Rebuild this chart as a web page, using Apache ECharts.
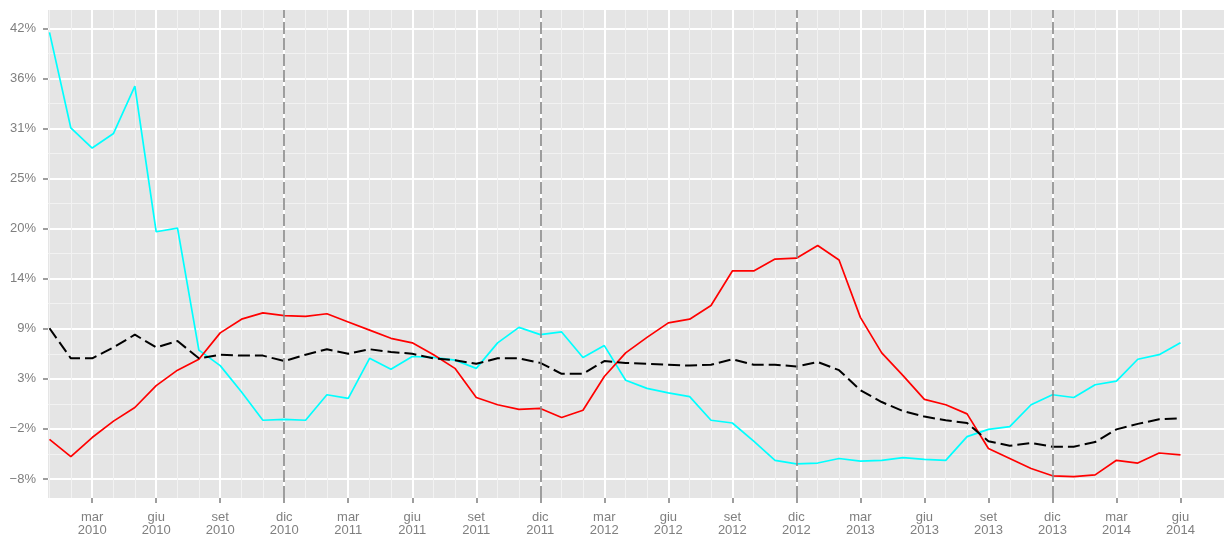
<!DOCTYPE html>
<html>
<head>
<meta charset="utf-8">
<script src="https://cdn.jsdelivr.net/npm/echarts@6/dist/echarts.min.js"></script>
<style>
  html, body { margin: 0; padding: 0; background: #fff; }
  #chart { width: 1224px; height: 535px; }
</style>
</head>
<body>
<div id="chart"></div>
<script>
// mesi: gen 2010 -> giu 2014 (la posizione sull'asse x e' l'indice del mese)
const monthLabels = [
  'gen 2010', 'feb 2010', 'mar 2010', 'apr 2010', 'mag 2010', 'giu 2010', 'lug 2010', 'ago 2010', 'set 2010', 'ott 2010', 'nov 2010', 'dic 2010',
  'gen 2011', 'feb 2011', 'mar 2011', 'apr 2011', 'mag 2011', 'giu 2011', 'lug 2011', 'ago 2011', 'set 2011', 'ott 2011', 'nov 2011', 'dic 2011',
  'gen 2012', 'feb 2012', 'mar 2012', 'apr 2012', 'mag 2012', 'giu 2012', 'lug 2012', 'ago 2012', 'set 2012', 'ott 2012', 'nov 2012', 'dic 2012',
  'gen 2013', 'feb 2013', 'mar 2013', 'apr 2013', 'mag 2013', 'giu 2013', 'lug 2013', 'ago 2013', 'set 2013', 'ott 2013', 'nov 2013', 'dic 2013',
  'gen 2014', 'feb 2014', 'mar 2014', 'apr 2014', 'mag 2014', 'giu 2014'
];

// serie (valori in %)
const cyanValues = [
  41.3, 30.8, 28.6, 30.2, 35.4, 19.4, 19.8, 6.4, 4.7, 1.8, -1.3, -1.2,
  -1.3, 1.5, 1.1, 5.5, 4.3, 5.7, 5.6, 5.3, 4.4, 7.2, 8.9, 8.1,
  8.4, 5.6, 6.9, 3.1, 2.2, 1.7, 1.3, -1.3, -1.6, -3.6, -5.7, -6.1,
  -6.0, -5.5, -5.8, -5.7, -5.4, -5.6, -5.7, -3.1, -2.3, -2.0, 0.4, 1.5,
  1.2, 2.6, 3.0, 5.4, 5.9, 7.2
];
const redValues = [
  -3.4, -5.3, -3.2, -1.4, 0.1, 2.5, 4.2, 5.4, 8.3, 9.8, 10.5, 10.2,
  10.1, 10.4, 9.5, 8.6, 7.7, 7.2, 5.9, 4.4, 1.2, 0.4, -0.1, 0.0,
  -1.0, -0.2, 3.5, 6.1, 7.8, 9.4, 9.8, 11.3, 15.1, 15.1, 16.4, 16.5,
  17.9, 16.3, 10.0, 6.1, 3.6, 1.0, 0.4, -0.6, -4.4, -5.5, -6.6, -7.4,
  -7.5, -7.3, -5.7, -6.0, -4.9, -5.1
];
const blackValues = [
  8.8, 5.5, 5.5, 6.7, 8.1, 6.7, 7.4, 5.5, 5.9, 5.8, 5.8, 5.2,
  5.9, 6.5, 6.0, 6.5, 6.2, 6.0, 5.5, 5.3, 4.9, 5.5, 5.5, 5.0,
  3.8, 3.8, 5.2, 5.0, 4.9, 4.8, 4.7, 4.8, 5.4, 4.8, 4.8, 4.6,
  5.1, 4.2, 2.0, 0.7, -0.3, -0.9, -1.3, -1.6, -3.6, -4.1, -3.8, -4.2,
  -4.2, -3.7, -2.3, -1.7, -1.2, -1.1
];

// tacche asse x
const xTickValues = [2, 5, 8, 11, 14, 17, 20, 23, 26, 29, 32, 35, 38, 41, 44, 47, 50, 53];
const xTickLabels = [
  'mar\n2010', 'giu\n2010', 'set\n2010', 'dic\n2010',
  'mar\n2011', 'giu\n2011', 'set\n2011', 'dic\n2011',
  'mar\n2012', 'giu\n2012', 'set\n2012', 'dic\n2012',
  'mar\n2013', 'giu\n2013', 'set\n2013', 'dic\n2013',
  'mar\n2014', 'giu\n2014'
];
// tacche asse y
const yTickValues = [-7.75, -2.25, 3.25, 8.75, 14.25, 19.75, 25.25, 30.75, 36.25, 41.75];
const yTickLabels = ['\u22128%', '\u22122%', '3%', '9%', '14%', '20%', '25%', '31%', '36%', '42%'];
const yMinorValues = [-5, 0.5, 6, 11.5, 17, 22.5, 28, 33.5, 39];
// linee verticali tratteggiate (dicembre)
const markerMonths = [11, 23, 35, 47];

const xMinorValues = monthLabels.map((m, i) => i).filter(i => !xTickValues.includes(i));

const xMin = -0.07, xMax = 55.04;
const yMin = -9.84, yMax = 43.76;
const labelColor = '#7f7f7f';

const toPairs = arr => arr.map((v, i) => [i, v]);

let chart = echarts.init(document.getElementById('chart'));

let option = {
  animation: false,
  grid: {
    left: 48, right: 0, top: 10, bottom: 37,
    outerBoundsMode: 'none',
    show: true, backgroundColor: '#E5E5E5', borderWidth: 0
  },
  xAxis: [
    { // griglia secondaria (mesi)
      type: 'value', min: xMin, max: xMax, position: 'bottom',
      axisLine: {show: false, onZero: false}, axisLabel: {show: false},
      axisTick: {show: false, customValues: xMinorValues},
      splitLine: {show: true, lineStyle: {color: '#F2F2F2', width: 1}}
    },
    {
      type: 'value', min: xMin, max: xMax, position: 'bottom', offset: 0,
      axisLine: {show: false, onZero: false},
      axisTick: {show: true, length: 5, customValues: xTickValues, lineStyle: {color: labelColor, width: 1.5}},
      axisLabel: {
        customValues: xTickValues,
        margin: 13,
        color: labelColor,
        fontFamily: 'Liberation Sans, Arial, sans-serif',
        fontSize: 13,
        lineHeight: 13,
        formatter: v => xTickLabels[xTickValues.indexOf(v)] || ''
      },
      splitLine: {show: true, lineStyle: {color: '#FFFFFF', width: 2}}
    }
  ],
  yAxis: [
    {
      type: 'value', min: yMin, max: yMax, position: 'left',
      axisLine: {show: false, onZero: false}, axisLabel: {show: false},
      axisTick: {show: false, customValues: yMinorValues},
      splitLine: {show: true, lineStyle: {color: '#F2F2F2', width: 1}}
    },
    {
      type: 'value', min: yMin, max: yMax, position: 'left', offset: 0,
      axisLine: {show: false, onZero: false},
      axisTick: {show: true, length: 5, customValues: yTickValues, lineStyle: {color: labelColor, width: 1.5}},
      axisLabel: {
        customValues: yTickValues,
        margin: 12,
        color: labelColor,
        fontFamily: 'Liberation Sans, Arial, sans-serif',
        fontSize: 13,
        formatter: v => yTickLabels[yTickValues.indexOf(v)] || ''
      },
      splitLine: {show: true, lineStyle: {color: '#FFFFFF', width: 2}}
    }
  ],
  series: [
    {
      name: 'ciano',
      type: 'line',
      xAxisIndex: 1, yAxisIndex: 1,
      data: toPairs(cyanValues),
      showSymbol: false,
      lineStyle: {color: '#00FFFF', width: 1.7},
      markLine: {
        silent: true,
        symbol: ['none', 'none'],
        label: {show: false},
        lineStyle: {color: '#868686', width: 1.6, type: [12, 4]},
        data: markerMonths.map(m => ({xAxis: m}))
      }
    },
    {
      name: 'rosso',
      type: 'line',
      xAxisIndex: 1, yAxisIndex: 1,
      data: toPairs(redValues),
      showSymbol: false,
      lineStyle: {color: '#FF0000', width: 1.7}
    },
    {
      name: 'nero',
      type: 'line',
      xAxisIndex: 1, yAxisIndex: 1,
      data: toPairs(blackValues),
      showSymbol: false,
      lineStyle: {color: '#000000', width: 2, type: [12, 5]}
    }
  ]
};

chart.setOption(option);
</script>
</body>
</html>
